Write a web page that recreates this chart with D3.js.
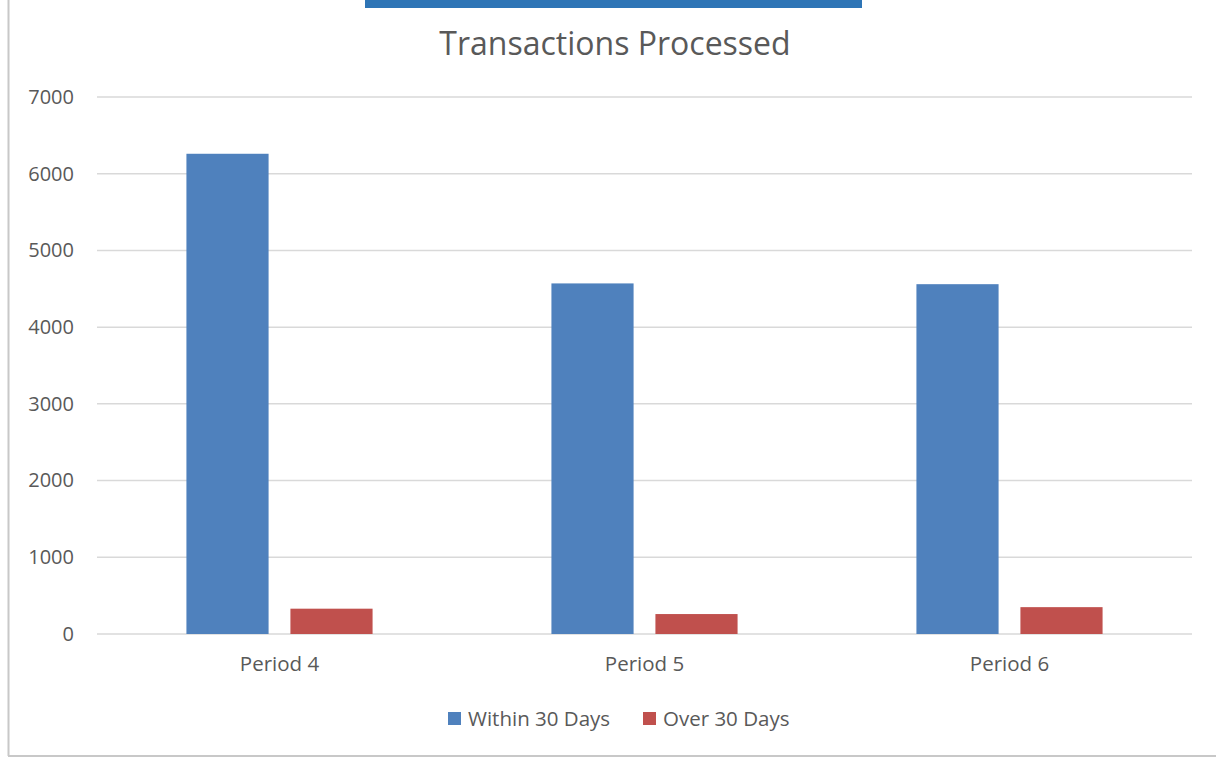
<!DOCTYPE html>
<html><head><meta charset="utf-8">
<script src="https://cdn.jsdelivr.net/npm/d3@7"></script>
<style>body{margin:0;background:#fff;} svg{display:block;font-family:"Open Sans",sans-serif;}</style>
</head><body>
<svg id="c" width="1216" height="758"></svg>
<script>
const categories = ["Period 4", "Period 5", "Period 6"];
const seriesNames = ["Within 30 Days", "Over 30 Days"];
const within30 = [6260, 4570, 4560];
const over30 = [330, 260, 350];
const yTicks = [0, 1000, 2000, 3000, 4000, 5000, 6000, 7000];
const colors = ["#4f81bd", "#c0504d"];

const svg = d3.select("#c");
const W = 1216, H = 758;
const m = {left: 97, right: 1192, top: 97, bottom: 634};

// frame
svg.append("line").attr("x1", 8.5).attr("x2", 8.5).attr("y1", 0).attr("y2", 756).attr("stroke", "#c8c8c8").attr("stroke-width", 2);
svg.append("line").attr("x1", 8).attr("x2", W).attr("y1", 756).attr("y2", 756).attr("stroke", "#c8c8c8").attr("stroke-width", 2);
// top accent bar
svg.append("rect").attr("x", 365).attr("y", 0).attr("width", 497).attr("height", 8).attr("fill", "#2e75b6");

svg.append("text").attr("x", 615).attr("y", 55).attr("text-anchor", "middle")
  .attr("font-size", 32).attr("fill", "#595959").text("Transactions Processed");

const x0 = d3.scaleBand().domain(categories).range([m.left, m.right]).paddingInner(0.49).paddingOuter(0.245);
const x1 = d3.scaleBand().domain(seriesNames).range([0, x0.bandwidth()]).paddingInner(0.21);
const y = d3.scaleLinear().domain([0, 7000]).range([m.bottom, m.top]);

// grid
svg.append("g").selectAll("line").data(yTicks).join("line")
  .attr("x1", m.left).attr("x2", m.right)
  .attr("y1", d => y(d)).attr("y2", d => y(d))
  .attr("stroke", "#d9d9d9").attr("stroke-width", 1.5);

// y axis labels
const yAxis = d3.axisLeft(y).tickValues(yTicks).tickSize(0).tickPadding(23).tickFormat(d3.format("d"));
const ga = svg.append("g").attr("transform", `translate(${m.left},0)`).call(yAxis);
ga.select(".domain").remove();
ga.selectAll("text").attr("font-size", 20).attr("fill", "#595959").attr("font-family", "Open Sans, sans-serif");

// bars
const data = categories.map((c, i) => ({c, vals: [within30[i], over30[i]]}));
const groups = svg.append("g").selectAll("g").data(data).join("g")
  .attr("transform", d => `translate(${x0(d.c)},0)`);
groups.selectAll("rect").data(d => d.vals.map((v, j) => ({s: seriesNames[j], v, j}))).join("rect")
  .attr("x", d => x1(d.s)).attr("width", x1.bandwidth())
  .attr("y", d => y(d.v)).attr("height", d => y(0) - y(d.v))
  .attr("fill", d => colors[d.j]);

// x axis labels
const xAxis = d3.axisBottom(d3.scaleBand().domain(categories).range([m.left, m.right])).tickSize(0).tickPadding(22);
const gx = svg.append("g").attr("transform", `translate(0,${m.bottom})`).call(xAxis);
gx.select(".domain").remove();
gx.selectAll("text").attr("font-size", 20.5).attr("fill", "#595959").attr("font-family", "Open Sans, sans-serif");

// legend
const legX = [448, 643];
const leg = svg.append("g").selectAll("g").data(seriesNames).join("g")
  .attr("transform", (d, i) => `translate(${legX[i]},712)`);
leg.append("rect").attr("width", 13).attr("height", 13).attr("fill", (d, i) => colors[i]);
leg.append("text").attr("x", 20).attr("y", 13.5).attr("font-size", 20.5).attr("fill", "#595959").text(d => d);
</script>
</body></html>
